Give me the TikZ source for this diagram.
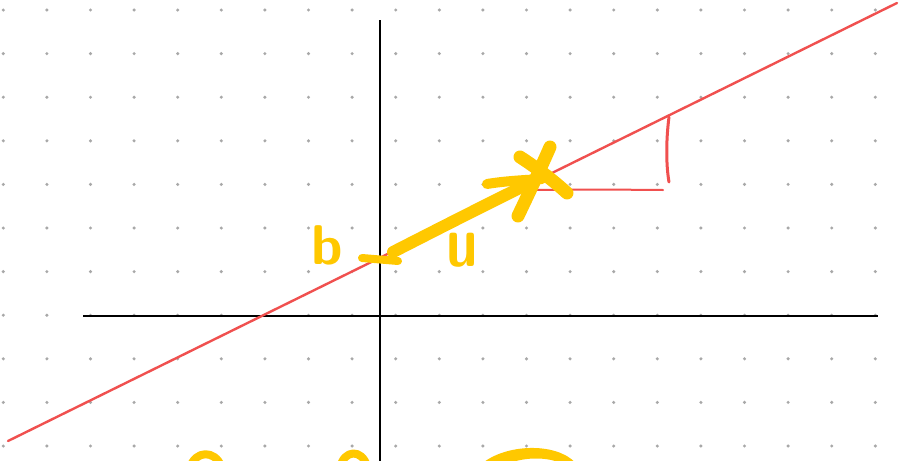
\documentclass[tikz,border=0pt]{standalone}
\usepackage{tikz}
\usetikzlibrary{positioning,arrows.meta,calc}
\usepackage{xcolor}
\definecolor{penyellow}{HTML}{FFC800}
\definecolor{penred}{HTML}{F0504F}
\definecolor{dotgray}{HTML}{A8A8A8}

\begin{document}
\begin{tikzpicture}[x=1pt, y=-1pt,
    ink/.style={penyellow, line width=11pt, line cap=round, line join=round},
    redink/.style={penred, line width=2.4pt, line cap=round, line join=round},
    axis/.style={black, line width=2.6pt},
    handlabel/.style={penyellow, font=\sffamily\bfseries\fontsize{56}{56}\selectfont, inner sep=0pt}]
    \useasboundingbox[fill=white] (0,0) rectangle (906,461);

    % Dotted paper background
    \foreach \i in {0,...,20} {
        \foreach \j in {0,...,10} {
            \fill[dotgray] (3.3+43.6*\i, 10+43.6*\j) circle (1.7pt);
        }
    }

    % Axes
    \coordinate (xleft) at (83,316);
    \coordinate (xright) at (878,316);
    \coordinate (ytop) at (380,20);
    \coordinate (ybottom) at (380,461);
    \draw[axis] (xleft) -- (xright);
    \draw[axis] (ytop) -- (ybottom);

    % Red line and slope triangle
    \coordinate (lstart) at (8,441);
    \coordinate (lend) at (897,3);
    \draw[redink] (lstart) -- (lend);
    \draw[redink, line width=2pt] (520,190) -- (600,189.5) -- (663,190);
    \draw[redink, line width=3pt] (669,117) .. controls (666,140) and (666,165) .. (669,182);

    % Intercept b and vector u
    \coordinate (b) at (393,252);
    \coordinate (tip) at (530,183);
    \draw[ink, line width=8pt] (362,258) -- (398,261);
    \draw[ink, line width=12pt] (b) .. controls (440,228) and (485,205) .. (tip);
    \draw[ink, line width=10pt] (487,184) .. controls (505,181) and (525,180) .. (542,179);
    \draw[ink, line width=13pt] (520,157) .. controls (540,170) and (555,182) .. (567,193);
    \draw[ink, line width=13pt] (550,147) .. controls (540,170) and (528,195) .. (518,216);

    \node[handlabel] (blabel) at (327,245) {b};
    \node[handlabel, yscale=1.3] (ulabel) at (462,250) {u};

    % Cut-off strokes at the bottom edge
    \begin{scope}
        \clip (0,0) rectangle (906,461);
        \draw[ink, line width=8pt] (190,468) .. controls (195,450) and (215,450) .. (221,466);
        \draw[ink, line width=8pt] (340,468) .. controls (344,449) and (362,449) .. (367,466);
        \draw[ink, line width=8pt] (483,468) .. controls (505,448) and (555,446) .. (573,466);
        \draw[ink, line width=6pt] (500,464) .. controls (520,453) and (550,453) .. (565,462);
    \end{scope}
\end{tikzpicture}
\end{document}
